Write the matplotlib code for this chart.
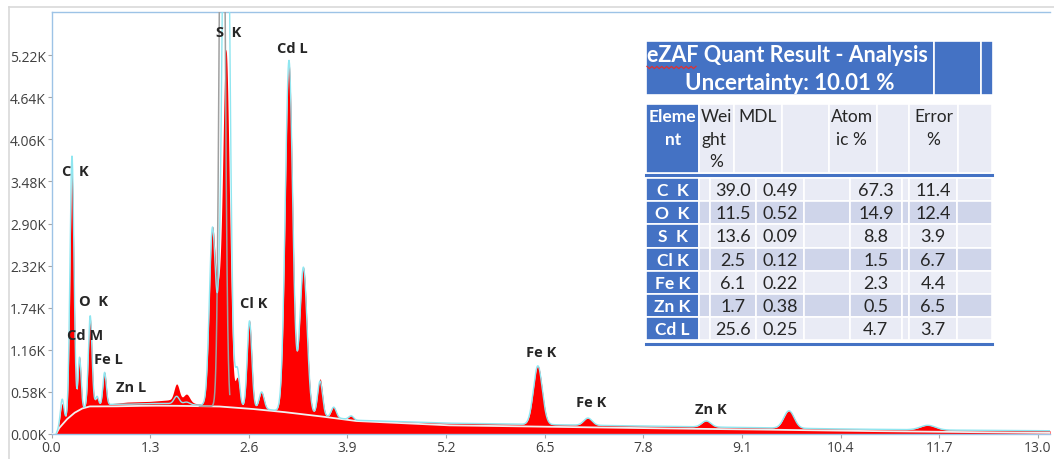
#!/usr/bin/env python3
"""
EDS spectrum with peak identification and eZAF quantification table.
"""

import numpy as np
import matplotlib
matplotlib.use('Agg')
import matplotlib.pyplot as plt
from matplotlib.patches import Rectangle

# ---------------------------------------------------------------------------
# Spectrum data (energy in keV, counts in thousands)
# ---------------------------------------------------------------------------
cont_kev = [0.06, 0.10, 0.20, 0.30, 0.40, 0.50, 0.80, 1.00, 1.30, 1.55, 1.90, 2.20, 2.60,
            3.00, 3.50, 4.00, 5.20, 6.50, 7.80, 9.10, 10.40, 11.70, 13.16]
# measured continuum under the peaks
cont_counts = [0.0, 0.10, 0.21, 0.29, 0.35, 0.38, 0.42, 0.44, 0.45, 0.47, 0.42, 0.40, 0.37,
               0.32, 0.26, 0.19, 0.15, 0.13, 0.11, 0.09, 0.07, 0.055, 0.045]
# continuum of the fitted curve
fit_cont_counts = [0.0, 0.10, 0.21, 0.29, 0.35, 0.38, 0.41, 0.41, 0.42, 0.42, 0.40, 0.40, 0.37,
                   0.32, 0.26, 0.19, 0.15, 0.13, 0.11, 0.09, 0.07, 0.055, 0.045]
# modelled bremsstrahlung background
bg_counts = [0.0, 0.08, 0.20, 0.29, 0.35, 0.38, 0.38, 0.385, 0.39, 0.39, 0.385, 0.38, 0.35,
             0.31, 0.25, 0.18, 0.12, 0.10, 0.08, 0.065, 0.045, 0.03, 0.015]

peak_kev = [0.14, 0.27, 0.37, 0.51, 0.60, 0.70, 1.65, 1.78,
            2.12, 2.20, 2.30, 2.45, 2.61, 2.77, 3.13, 3.32, 3.54, 3.72, 3.95,
            6.41, 7.07, 8.63, 9.72, 11.55]
peak_counts = [0.42, 3.60, 1.06, 1.60, 0.50, 0.85, 0.69, 0.55,
               2.85, 2.13, 5.30, 0.78, 1.56, 0.58, 5.12, 2.30, 0.76, 0.37, 0.25,
               0.94, 0.22, 0.18, 0.32, 0.12]
fit_counts = [0.48, 3.83, 1.06, 1.63, 0.52, 0.85, 0.52, 0.44,
              2.85, 2.13, 10.0, 0.92, 1.56, 0.58, 5.15, 2.30, 0.73, 0.37, 0.25,
              0.94, 0.22, 0.18, 0.32, 0.12]
peak_sigma = [0.022, 0.026, 0.020, 0.024, 0.020, 0.022, 0.035, 0.040,
              0.040, 0.035, 0.045, 0.028, 0.030, 0.032, 0.048, 0.048, 0.032, 0.032, 0.032,
              0.058, 0.055, 0.060, 0.068, 0.100]

# S K fit component that runs off the top of the plot
sk_fit_kev = [2.25]
sk_fit_counts = [10.0]
sk_fit_sigma = [0.035]

# peak labels
label_text = ['C  K', 'O  K', 'Cd M', 'Fe L', 'Zn L', 'S  K', 'Cd L', 'Cl K',
              'Fe K', 'Fe K', 'Zn K']
label_kev = [0.31, 0.56, 0.44, 0.745, 1.05, 2.34, 3.18, 2.66, 6.45, 7.11, 8.69]
label_counts = [3.62, 1.83, 1.36, 1.03, 0.65, 5.54, 5.32, 1.80, 1.13, 0.44, 0.34]

x_ticks = [0.0, 1.3, 2.6, 3.9, 5.2, 6.5, 7.8, 9.1, 10.4, 11.7, 13.0]
y_ticks = [0.00, 0.58, 1.16, 1.74, 2.32, 2.90, 3.48, 4.06, 4.64, 5.22]

# ---------------------------------------------------------------------------
# Quantification table
# ---------------------------------------------------------------------------
table_title = ['eZAF Quant Result - Analysis', 'Uncertainty: 10.01 %']
elements = ['C  K', 'O  K', 'S  K', 'Cl K', 'Fe K', 'Zn K', 'Cd L']
weight_pct = ['39.0', '11.5', '13.6', '2.5', '6.1', '1.7', '25.6']
mdl = ['0.49', '0.52', '0.09', '0.12', '0.22', '0.38', '0.25']
atomic_pct = ['67.3', '14.9', '8.8', '1.5', '2.3', '0.5', '4.7']
error_pct = ['11.4', '12.4', '3.9', '6.7', '4.4', '6.5', '3.7']


def gauss_matrix(x, centers, sigmas):
    x = np.asarray(x)[:, None]
    c = np.asarray(centers)[None, :]
    s = np.asarray(sigmas)[None, :]
    return np.exp(-(x - c) ** 2 / (2 * s ** 2))


def build_spectrum(energy, heights, continuum):
    """Sum of Gaussian lines whose totals at the line centres equal `heights`."""
    base_at_peaks = np.interp(peak_kev, cont_kev, continuum)
    g = gauss_matrix(peak_kev, peak_kev, peak_sigma)
    amps = np.linalg.solve(g, np.asarray(heights) - base_at_peaks)
    amps = np.clip(amps, 0, None)
    base = np.interp(energy, cont_kev, continuum, left=0.0)
    return base + gauss_matrix(energy, peak_kev, peak_sigma) @ amps


energy = np.linspace(0.0, 13.16, 6000)
measured = build_spectrum(energy, peak_counts, cont_counts)
fitted = build_spectrum(energy, fit_counts, fit_cont_counts)
background = np.interp(energy, cont_kev, bg_counts, left=0.0)
sk_fit = background + gauss_matrix(energy, sk_fit_kev, sk_fit_sigma) @ np.asarray(sk_fit_counts)

measured[energy < 0.06] = 0.0
fitted[energy < 0.06] = np.nan

# ---------------------------------------------------------------------------
# Figure
# ---------------------------------------------------------------------------
W, H = 1054, 460
fig = plt.figure(figsize=(W / 100, H / 100), dpi=100)
fig.patch.set_facecolor('white')

ax = fig.add_axes([51.5 / W, 25 / H, (1050 - 51.5) / W, (435 - 12.7) / H])
ax.set_xlim(0, 13.16)
ax.set_ylim(0, 5.82)

ax.fill_between(energy, 0, measured, color='#FF0000', lw=0, zorder=2)
ax.plot(energy, background, color='#F0F0F0', lw=1.3, zorder=3)
sk_mask = (energy > 1.95) & (energy < 2.35)
ax.plot(energy[sk_mask], sk_fit[sk_mask], color='#A0A0A0', lw=1.1, zorder=3)
ax.plot(energy, fitted, color='#8FE6F0', lw=1.0, zorder=4)

for txt, xe, yc in zip(label_text, label_kev, label_counts):
    ax.text(xe, yc, txt, ha='center', va='center', fontsize=10.5,
            fontweight='bold', color='#262626', family='Open Sans', zorder=6)

ax.set_xticks(x_ticks)
ax.set_xticklabels([f'{v:.1f}' for v in x_ticks])
ax.set_yticks(y_ticks)
ax.set_yticklabels([f'{v:.2f}K' for v in y_ticks])
ax.tick_params(axis='both', length=3, width=0.8, color='#A6A6A6',
               labelsize=10, labelcolor='#404040', pad=1)
for lab in ax.get_xticklabels() + ax.get_yticklabels():
    lab.set_family('Open Sans')

for side in ['left', 'top', 'bottom']:
    ax.spines[side].set_color('#9DC3E6')
    ax.spines[side].set_linewidth(1.0)
ax.spines['right'].set_visible(False)

# ---------------------------------------------------------------------------
# Overlay in pixel coordinates for the table and page frame
# ---------------------------------------------------------------------------
ov = fig.add_axes([0, 0, 1, 1], zorder=10)
ov.set_xlim(0, W)
ov.set_ylim(H, 0)
ov.axis('off')
ov.patch.set_alpha(0)

# light page frame
ov.plot([9, 9], [8, H], color='#D9D9D9', lw=1.2)
ov.plot([9, W], [8, 8], color='#D9D9D9', lw=1.2)

BLUE = '#4472C4'
LIGHT = '#E9EBF5'
DARK = '#CFD5EA'


def cell(x0, x1, y0, y1, color):
    ov.add_patch(Rectangle((x0, y0), x1 - x0, y1 - y0, facecolor=color,
                           edgecolor='white', lw=1.2))


# title block
cell(646, 934, 42, 96, BLUE)
cell(934, 981, 42, 96, BLUE)
cell(981, 993, 42, 96, BLUE)
ov.text(647, 56, table_title[0], ha='left', va='center', fontsize=15.5,
        fontweight='bold', color='white', family='Lato')
ov.text(790, 83, table_title[1], ha='center', va='center', fontsize=16,
        fontweight='bold', color='white', family='Lato')
wave_x = np.linspace(647, 696, 21)
ov.plot(wave_x, 68.5 + 1.1 * np.where(np.arange(21) % 2 == 0, -1, 1),
        color='#E03030', lw=0.9)

# header row
hdr_edges = [699, 734, 781.7, 829.3, 876.7, 909.3, 957.7, 992.3]
cell(646, 699, 105, 174, BLUE)
for a, b in zip(hdr_edges[:-1], hdr_edges[1:]):
    cell(a, b, 105, 174, LIGHT)
hdr_font = dict(fontsize=12.5, family='Lato', va='center')
ov.text(672, 117, 'Eleme', ha='center', color='white', fontweight='bold', **hdr_font)
ov.text(673, 140, 'nt', ha='center', color='white', fontweight='bold', **hdr_font)
ov.text(701, 117, 'Wei', ha='left', color='#262626', **hdr_font)
ov.text(702, 140, 'ght', ha='left', color='#262626', **hdr_font)
ov.text(716, 162, '%', ha='center', color='#262626', **hdr_font)
ov.text(738, 117, 'MDL', ha='left', color='#262626', **hdr_font)
ov.text(831, 117, 'Atom', ha='left', color='#262626', **hdr_font)
ov.text(836, 140, 'ic %', ha='left', color='#262626', **hdr_font)
ov.text(914, 117, 'Error', ha='left', color='#262626', **hdr_font)
ov.text(933, 140, '%', ha='center', color='#262626', **hdr_font)

ov.plot([646, 992], [176, 176], color=BLUE, lw=2.2)

# data rows
row_edges = [699, 710, 756, 804.3, 850, 901.7, 909.3, 956.7, 992.3]
row_top = 179.0
row_h = 23.2
for i, el in enumerate(elements):
    y0 = row_top + i * row_h
    y1 = y0 + row_h
    shade = LIGHT if i % 2 == 0 else DARK
    cell(646, 699, y0, y1, BLUE)
    for a, b in zip(row_edges[:-1], row_edges[1:]):
        cell(a, b, y0, y1, shade)
    yc = (y0 + y1) / 2 + 0.5
    ov.text(672.5, yc, el, ha='center', va='center', fontsize=12.5,
            fontweight='bold', color='white', family='Lato')
    for val, (a, b) in zip([weight_pct[i], mdl[i], atomic_pct[i], error_pct[i]],
                           [(710, 756), (756, 804.3), (850, 901.7), (909.3, 956.7)]):
        ov.text((a + b) / 2, yc, val, ha='center', va='center', fontsize=13,
                color='#262626', family='Lato')

ov.plot([646, 992], [345, 345], color=BLUE, lw=2.2)

fig.savefig('out.png', dpi=100)
